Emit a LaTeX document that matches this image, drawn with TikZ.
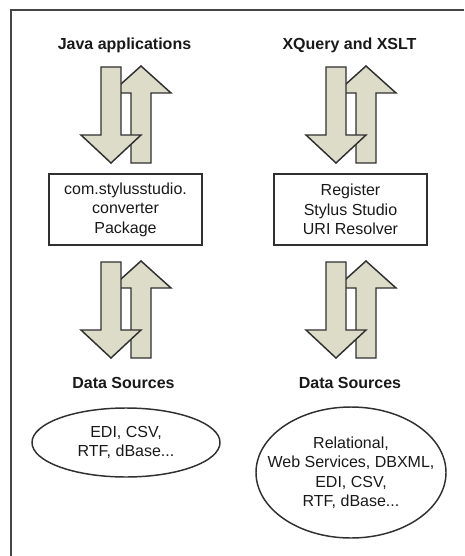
\documentclass[tikz,border=0pt]{standalone}
\usepackage{fontspec}
\setmainfont{Liberation Sans}
\usetikzlibrary{shapes.geometric}
\definecolor{arrowfill}{HTML}{DCDCC9}
\definecolor{edgegray}{HTML}{303030}

\tikzset{
  title/.style={font=\bfseries\fontsize{12}{14}\selectfont, text=black!90},
  bodytext/.style={font=\fontsize{12}{14.6}\selectfont, align=center, text=black!90},
  blockarrow/.style={draw=edgegray, fill=arrowfill, line width=1.1pt, line join=miter},
  stepbox/.style={draw=edgegray, line width=1.1pt, minimum width=153*0.75pt, minimum height=71*0.75pt},
  % a pair of block arrows, down in front of up
  pics/flowpair/.style={code={
    \draw[blockarrow] (50,98) -- (50,28) -- (30,28) -- (60,1) -- (90,28) -- (70,28) -- (70,98) -- cycle;
    \draw[blockarrow] (20,2) -- (40,2) -- (40,70) -- (60,70) -- (30,98) -- (0,70) -- (20,70) -- cycle;
  }}
}

\begin{document}
\begin{tikzpicture}[x=0.75pt,y=-0.75pt]
\useasboundingbox (0,0) rectangle (464,556);
% outer frame, runs off to the right and bottom
\draw[edgegray!90, line width=1.5pt] (464,10.5) -- (10.5,10.5) -- (10.5,556);

% left column: Java
\node[title] (java) at (124.5,45) {Java applications};
\pic at (81,65) {flowpair};
\node[stepbox, bodytext] (conv) at (125.5,209.5) {com.stylusstudio.\\converter\\Package};
\pic at (81,260) {flowpair};
\node[title] (jsrc) at (123.5,383) {Data Sources};
\node[draw=edgegray, line width=1.1pt, ellipse, minimum width=188*0.75pt, minimum height=69*0.75pt] (jdata) at (126,442.5) {};
\node[bodytext] (jdatatxt) at (jdata) {EDI, CSV,\\RTF, dBase...};

% right column: XQuery / XSLT
\node[title] (xq) at (349.5,45) {XQuery and XSLT};
\pic at (306,65) {flowpair};
\node[stepbox, bodytext] (resolver) at (350.5,209.5) {Register\\Stylus Studio\\URI Resolver};
\pic at (306,260) {flowpair};
\node[title] (xsrc) at (350,383) {Data Sources};
\node[draw=edgegray, line width=1.1pt, ellipse, minimum width=190*0.75pt, minimum height=131*0.75pt] (xdata) at (351,472.5) {};
\node[bodytext] (xdatatxt) at (xdata) {Relational,\\Web Services, DBXML,\\EDI, CSV,\\RTF, dBase...};
\end{tikzpicture}
\end{document}
